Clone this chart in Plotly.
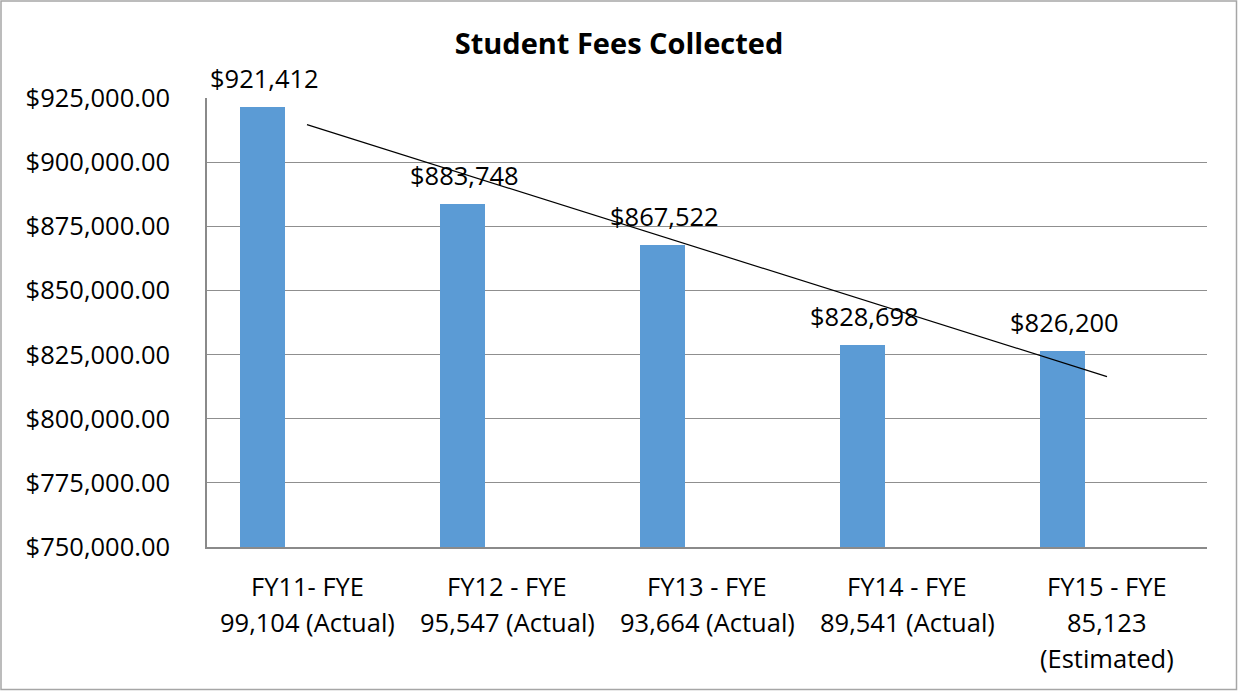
import numpy as np
import plotly.graph_objects as go

# ---- data ----
category_lines = [
    ["FY11- FYE", "99,104 (Actual)"],
    ["FY12 - FYE", "95,547 (Actual)"],
    ["FY13 - FYE", "93,664 (Actual)"],
    ["FY14 - FYE", "89,541 (Actual)"],
    ["FY15 - FYE", "85,123", "(Estimated)"],
]
fees = [921412, 883748, 867522, 828698, 826200]
fee_labels = ["$921,412", "$883,748", "$867,522", "$828,698", "$826,200"]
y_ticks = [750000, 775000, 800000, 825000, 850000, 875000, 900000, 925000]
y_tick_text = ["$750,000.00", "$775,000.00", "$800,000.00", "$825,000.00",
               "$850,000.00", "$875,000.00", "$900,000.00", "$925,000.00"]
title_text = "Student Fees Collected"

FONT = "Open Sans"
FS = 25.5
x = list(range(len(fees)))
bar_offset = -0.335
bar_width = 0.225
bar_centers = [i + bar_offset + bar_width / 2 for i in x]

# linear trendline (least squares through the bar values)
slope, intercept = np.polyfit(x, fees, 1)
trend_x = [x[0], x[-1]]
trend_y = [intercept + slope * xx for xx in trend_x]

fig = go.Figure()
fig.add_trace(go.Bar(
    x=x, y=fees,
    offset=bar_offset, width=bar_width,
    marker=dict(color="#5b9bd5", line=dict(width=0)),
    showlegend=False, hoverinfo="skip",
))
fig.add_trace(go.Scatter(
    x=trend_x, y=trend_y, mode="lines",
    line=dict(color="#000000", width=1.2),
    showlegend=False, hoverinfo="skip",
))

annotations = []
for xc, v, t in zip(bar_centers, fees, fee_labels):
    annotations.append(dict(
        x=xc, y=v, xref="x", yref="y", text=t, showarrow=False,
        yanchor="middle", yshift=29, xshift=2,
        font=dict(family=FONT, size=FS, color="#000000"),
    ))
for i, lines in enumerate(category_lines):
    for j, line in enumerate(lines):
        annotations.append(dict(
            x=i, y=0, xref="x", yref="paper", text=line, showarrow=False,
            yanchor="middle", yshift=-39 - 36 * j,
            font=dict(family=FONT, size=FS, color="#000000"),
        ))

fig.update_layout(
    width=1238, height=691,
    margin=dict(l=207, r=31, t=98, b=144),
    paper_bgcolor="white", plot_bgcolor="white",
    title=dict(text="<b>" + title_text + "</b>", x=0.5, xref="container",
               y=1 - 44 / 691, yref="container", yanchor="middle", xanchor="center",
               font=dict(family=FONT, size=29, color="#000000")),
    xaxis=dict(range=[-0.5, 4.5], showticklabels=False, showgrid=False,
               zeroline=False, showline=True, linecolor="#8a8a8a", linewidth=1.5,
               ticks="", fixedrange=True),
    yaxis=dict(range=[750000, 925000], tickvals=y_ticks, ticktext=y_tick_text,
               showgrid=True, gridcolor="#8f8f8f", gridwidth=1,
               zeroline=False, showline=True, linecolor="#8a8a8a", linewidth=1.5,
               ticks="", ticklabelstandoff=30, fixedrange=True,
               tickfont=dict(family=FONT, size=FS, color="#000000")),
    annotations=annotations,
    shapes=[dict(type="rect", xref="paper", yref="paper",
                 x0=(1 - 207) / 1000, x1=(1236.5 - 207) / 1000,
                 y0=(547 - 689.5) / 449, y1=(547 - 1) / 449,
                 line=dict(color="#a6a6a6", width=1.5), fillcolor="rgba(0,0,0,0)",
                 layer="below")],
    bargap=0,
)

fig.write_html("out.html", config={"displayModeBar": False},
               post_script="document.body.style.margin='0';document.body.style.padding='0';")
